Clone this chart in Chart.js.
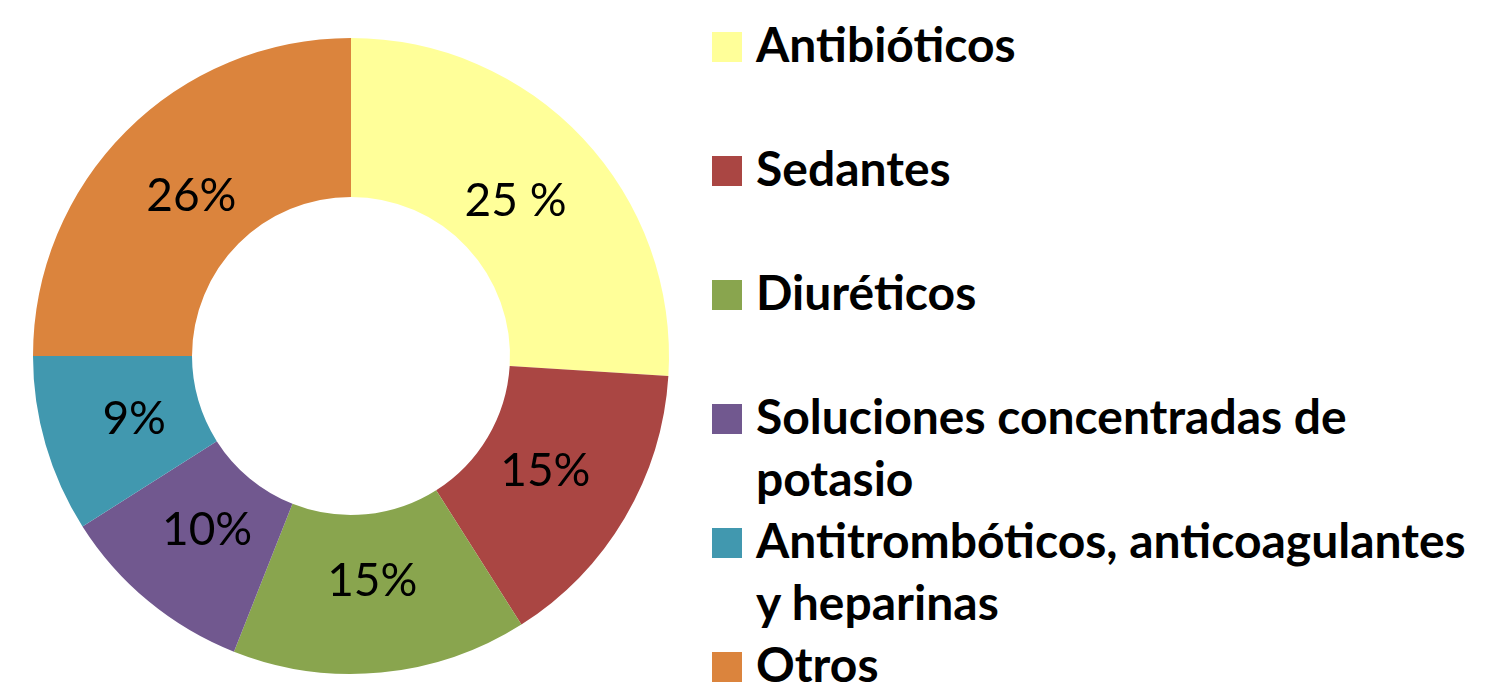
<!DOCTYPE html>
<html>
<head>
<meta charset="utf-8">
<script src="https://cdn.jsdelivr.net/npm/chart.js@4.4.1/dist/chart.umd.min.js"></script>
<style>
  html, body { margin: 0; padding: 0; background: #fff; }
  body { width: 1504px; height: 688px; position: relative; overflow: hidden; }
  #chartBox { position: absolute; left: 0; top: 0; width: 702px; height: 688px; }
  #legend { position: absolute; left: 712px; top: 0; width: 772px; margin: 0; padding: 0; list-style: none;
    font-family: Lato, "Open Sans", sans-serif; font-weight: bold; font-size: 48px; color: #000; }
  #legend li { position: relative; height: 124px; line-height: 62px; padding: 13px 0 0 44px; box-sizing: border-box; }
  #legend li .box { position: absolute; left: 0; top: 32px; width: 30px; height: 30px; }
  #legend li .txt { display: block; }
</style>
</head>
<body>
<div id="chartBox"><canvas id="donut"></canvas></div>
<ul id="legend"></ul>
<script>
const categories = [
  "Antibióticos",
  "Sedantes",
  "Diuréticos",
  "Soluciones concentradas de potasio",
  "Antitrombóticos, anticoagulantes y heparinas",
  "Otros",
];
const values = [26, 15, 15, 10, 9, 25];
// text printed on the slices, as written in the original
const valueLabels = ["25 %", "15%", "15%", "10%", "9%", "26%"];
const colors = ["#FFFF99", "#AA4643", "#89A54E", "#71588F", "#4198AF", "#DB843D"];

// draws the percentage text inside each slice
const sliceLabels = {
  id: "sliceLabels",
  afterDatasetsDraw(chart) {
    const ctx = chart.ctx;
    const meta = chart.getDatasetMeta(0);
    ctx.save();
    ctx.font = "46px Lato, 'Open Sans', sans-serif";
    ctx.fillStyle = "#000";
    ctx.textAlign = "center";
    ctx.textBaseline = "middle";
    meta.data.forEach((arc, i) => {
      const p = arc.getProps(["x", "y", "startAngle", "endAngle", "innerRadius", "outerRadius"], true);
      const mid = (p.startAngle + p.endAngle) / 2;
      const r = p.innerRadius + (p.outerRadius - p.innerRadius) * 0.42;
      ctx.fillText(valueLabels[i], p.x + Math.cos(mid) * r, p.y + Math.sin(mid) * r);
    });
    ctx.restore();
  },
};

new Chart(document.getElementById("donut"), {
  type: "doughnut",
  data: {
    labels: categories,
    datasets: [
      {
        data: values,
        backgroundColor: colors,
        borderWidth: 0,
      },
    ],
  },
  options: {
    responsive: true,
    maintainAspectRatio: false,
    animation: false,
    cutout: "50%",
    layout: { padding: { left: 33, right: 33, top: 38, bottom: 14 } },
    plugins: {
      legend: { display: false },
      tooltip: { enabled: false },
    },
  },
  plugins: [sliceLabels],
});

// legend on the right
const legendEl = document.getElementById("legend");
categories.forEach((name, i) => {
  const li = document.createElement("li");
  li.innerHTML = '<span class="box" style="background:' + colors[i] + '"></span><span class="txt"></span>';
  li.querySelector(".txt").textContent = name;
  legendEl.appendChild(li);
});
</script>
</body>
</html>
